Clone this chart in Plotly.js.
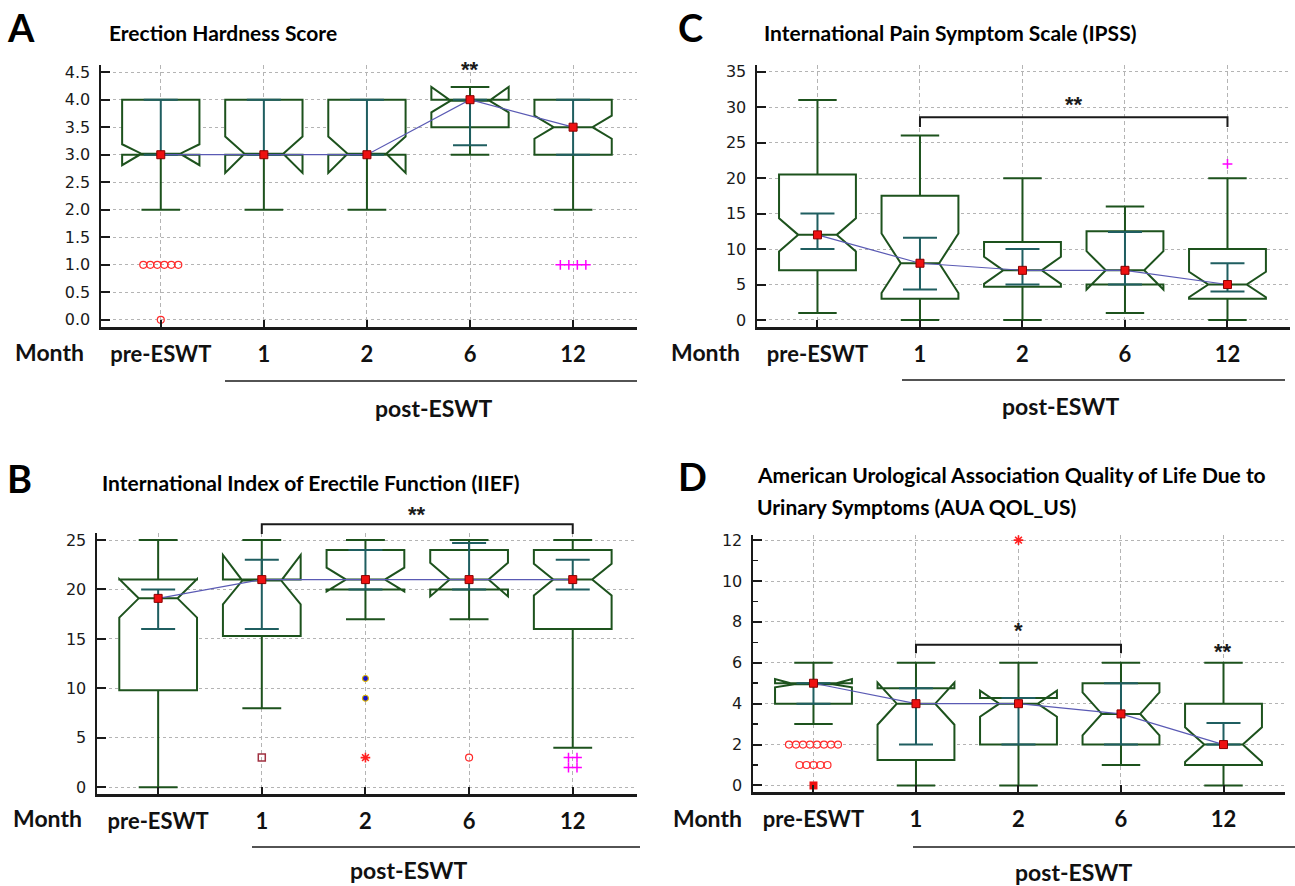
<!DOCTYPE html>
<html><head><meta charset="utf-8">
<script src="https://cdn.plot.ly/plotly-3.0.1.min.js"></script>
<style>html,body{margin:0;padding:0;background:#fff}#chart{width:1295px;height:886px}</style>
</head><body><div id="chart"></div>
<script>
const categories = ['pre-ESWT', '1', '2', '6', '12'];
const catPos = [0, 1, 2, 3, 4];

// ---- Panel A: Erection Hardness Score
const A_q1 = [3, 3, 3, 3.5, 3];
const A_median = [3, 3, 3, 4, 3.5];
const A_q3 = [4, 4, 4, 4, 4];
const A_low = [2, 2, 2, 3, 2];
const A_high = [4, 4, 4, 4, 4];
const A_notch = [0.19, 0.33, 0.33, 0.23, 0.21];
const A_ciLow = [3, 3, 3, 3.17, 3];
const A_ciHigh = [4, 4, 4, 4, 4];
const A_outCat = [0, 0, 0, 0, 0, 0, 0, 4, 4, 4, 4];
const A_outVal = [1, 1, 1, 1, 1, 1, 0, 1, 1, 1, 1];
const A_outSym = ['c', 'c', 'c', 'c', 'c', 'c', 'c', 'p', 'p', 'p', 'p'];
const A_starX = [3], A_starY = [4.55], A_starText = ['**'];
const A_bracketX = [], A_bracketY = [];

// ---- Panel C: IPSS
const C_q1 = [7, 3, 4.7, 5, 3];
const C_median = [12, 8, 7, 7, 5];
const C_q3 = [20.5, 17.5, 11, 12.5, 10];
const C_low = [1, 0, 0, 1, 0];
const C_high = [31, 26, 20, 16, 20];
const C_notch = [2.35, 4.2, 1.9, 2.7, 1.8];
const C_ciLow = [10, 4.3, 5, 5, 4];
const C_ciHigh = [15, 11.6, 10, 12.4, 8];
const C_outCat = [4];
const C_outVal = [22];
const C_outSym = ['p'];
const C_starX = [2.5], C_starY = [30.4], C_starText = ['**'];
const C_bracketX = [1, 4], C_bracketY = [28.6, 27.2];

// ---- Panel B: IIEF
const B_q1 = [9.8, 15.3, 20, 20, 16];
const B_median = [19.1, 21, 21, 21, 21];
const B_q3 = [21, 21, 24, 24, 24];
const B_low = [0, 8, 17, 17, 4];
const B_high = [25, 25, 25, 25, 25];
const B_notch = [1.95, 2.5, 1.2, 1.7, 1.6];
const B_ciLow = [16, 16, 20, 20, 20];
const B_ciHigh = [20, 23, 24, 24.7, 23];
const B_outCat = [1, 2, 2, 2, 3, 4, 4, 4, 4];
const B_outVal = [3, 11, 9, 3, 3, 3, 3, 2, 2];
const B_outSym = ['s', 'b', 'b', 'a', 'c', 'p', 'p', 'p', 'p'];
const B_starX = [2.5], B_starY = [27.6], B_starText = ['**'];
const B_bracketX = [1, 4], B_bracketY = [26.6, 25.6];

// ---- Panel D: AUA QOL_US
const D_q1 = [4, 1.25, 2, 2, 1];
const D_median = [5, 4, 4, 3.5, 2];
const D_q3 = [5, 4.75, 4.28, 5, 4];
const D_low = [3, 0, 0, 1, 0];
const D_high = [6, 6, 6, 6, 6];
const D_notch = [0.2, 1.03, 0.64, 1.05, 0.85];
const D_ciLow = [4, 2, 2, 2, 2];
const D_ciHigh = [5, 4.75, 4.28, 5, 3.05];
const D_outCat = [0, 0, 0, 0, 0, 0, 0, 0, 0, 0, 0, 0, 0, 0, 2];
const D_outVal = [2, 2, 2, 2, 2, 2, 2, 2, 1, 1, 1, 1, 1, 0, 12];
const D_outSym = ['c', 'c', 'c', 'c', 'c', 'c', 'c', 'c', 'c', 'c', 'c', 'c', 'c', 'q', 'a'];
const D_starX = [2, 4], D_starY = [7.56, 6.55], D_starText = ['*', '**'];
const D_bracketX = [1, 3], D_bracketY = [6.88, 6.47];

// ---- styling / layout
const W = 1295, H = 886;
const F_COND = 'Lato, "Liberation Sans Narrow", "DejaVu Sans Condensed", sans-serif';
const F_TICK = '"DejaVu Sans", Verdana, sans-serif';
const BOX_COLOR = '#1d521d';
const CI_COLOR = '#1f5e60';
const MED_LINE = '#5a5ab4';
const SYM = {
  c: {symbol: 'circle-open', color: '#ff2a2a', size: 7, lw: 1.2, step: 7},
  p: {symbol: 'cross-thin-open', color: '#ff00ff', size: 7, lw: 1.5, step: 8.5},
  s: {symbol: 'square-open', color: '#a03040', size: 7, lw: 1.5, step: 7},
  b: {symbol: 'circle', color: '#1515c8', size: 6, lw: 1.2, lc: '#e0b800', step: 7},
  a: {symbol: 'asterisk-open', color: '#ff2020', size: 8, lw: 1.6, step: 7},
  q: {symbol: 'square', color: '#ee1010', size: 8, lw: 0, step: 7}
};

const panels = [
  {key: 'A', xa: 'x', ya: 'y', px: [101, 637], py: [65, 327], xr: [-0.58, 4.62], yr: [-0.13, 4.63], dtick: 0.5, fmt: '.1f', minor: false,
   q1: A_q1, med: A_median, q3: A_q3, lo: A_low, hi: A_high, notch: A_notch, ciL: A_ciLow, ciH: A_ciHigh,
   oc: A_outCat, ov: A_outVal, os: A_outSym, sx: A_starX, sy: A_starY, st: A_starText, bx: A_bracketX, by: A_bracketY,
   letter: [20.5, 27], title: ['Erection Hardness Score'], titlePos: [107, 32], month: [49, 352], post: {line: [225, 637, 381], label: [433, 408]}},
  {key: 'C', xa: 'x2', ya: 'y2', px: [757, 1290], py: [65, 327], xr: [-0.59, 4.61], yr: [-0.99, 35.95], dtick: 5, fmt: '', minor: false,
   q1: C_q1, med: C_median, q3: C_q3, lo: C_low, hi: C_high, notch: C_notch, ciL: C_ciLow, ciH: C_ciHigh,
   oc: C_outCat, ov: C_outVal, os: C_outSym, sx: C_starX, sy: C_starY, st: C_starText, bx: C_bracketX, by: C_bracketY,
   letter: [690, 27], title: ['International Pain Symptom Scale (IPSS)'], titlePos: [762, 32], month: [705, 352], post: {line: [902, 1285, 380], label: [1060, 406]}},
  {key: 'B', xa: 'x3', ya: 'y3', px: [97, 637], py: [533, 794], xr: [-0.59, 4.62], yr: [-0.68, 25.71], dtick: 5, fmt: '', minor: false,
   q1: B_q1, med: B_median, q3: B_q3, lo: B_low, hi: B_high, notch: B_notch, ciL: B_ciLow, ciH: B_ciHigh,
   oc: B_outCat, ov: B_outVal, os: B_outSym, sx: B_starX, sy: B_starY, st: B_starText, bx: B_bracketX, by: B_bracketY,
   letter: [19.5, 478], title: ['International Index of Erectile Function (IIEF)'], titlePos: [100, 482], month: [47, 818], post: {line: [252, 640, 847], label: [408, 870]}},
  {key: 'D', xa: 'x4', ya: 'y4', px: [753, 1285], py: [535, 792], xr: [-0.59, 4.60], yr: [-0.32, 12.25], dtick: 2, fmt: '', minor: true,
   q1: D_q1, med: D_median, q3: D_q3, lo: D_low, hi: D_high, notch: D_notch, ciL: D_ciLow, ciH: D_ciHigh,
   oc: D_outCat, ov: D_outVal, os: D_outSym, sx: D_starX, sy: D_starY, st: D_starText, bx: D_bracketX, by: D_bracketY,
   letter: [692, 476], title: ['American Urological Association Quality of Life Due to', 'Urinary Symptoms (AUA QOL_US)'], titlePos: [755, 474], month: [707, 818], post: {line: [913, 1295, 847], label: [1073, 872]}}
];

const traces = [];
const layout = {
  width: W, height: H, autosize: false, margin: {l: 0, r: 0, t: 0, b: 0},
  paper_bgcolor: '#fff', plot_bgcolor: 'rgba(0,0,0,0)', showlegend: false, hovermode: false,
  annotations: [], shapes: []
};
const px2x = p => p / W;
const py2y = p => 1 - p / H;

panels.forEach(P => {
  const xd = [px2x(P.px[0]), px2x(P.px[1])];
  const yd = [py2y(P.py[1]), py2y(P.py[0])];
  const axX = 'xaxis' + P.xa.slice(1), axY = 'yaxis' + P.ya.slice(1);
  layout[axX] = {
    domain: xd, range: P.xr, anchor: P.ya, tickmode: 'array', tickvals: catPos, ticktext: categories,
    ticks: 'inside', ticklen: 7, tickwidth: 2, tickcolor: '#1a1a1a',
    showline: true, linewidth: 2.5, linecolor: '#1a1a1a', zeroline: false,
    showgrid: true, gridcolor: '#b4b4b4', gridwidth: 1, griddash: '4px,3px',
    tickfont: {family: F_COND, size: 22, color: '#111', weight: 'bold'}, ticklabelstandoff: 6
  };
  const yax = {
    domain: yd, range: P.yr, anchor: P.xa, tick0: 0, dtick: P.dtick,
    ticks: 'inside', ticklen: 9, tickwidth: 2, tickcolor: '#1a1a1a',
    showline: true, linewidth: 2.5, linecolor: '#1a1a1a', zeroline: false,
    showgrid: true, gridcolor: '#b4b4b4', gridwidth: 1, griddash: 'dot',
    tickfont: {family: F_TICK, size: 16, color: '#1a1a1a'}, ticklabelstandoff: 5
  };
  if (P.fmt) yax.tickformat = P.fmt;
  if (P.minor) yax.minor = {dtick: 1, tick0: 0, ticks: 'inside', ticklen: 5, tickwidth: 1.5, tickcolor: '#1a1a1a', showgrid: false};
  layout[axY] = yax;

  // notched boxes
  traces.push({
    type: 'box', xaxis: P.xa, yaxis: P.ya, x: catPos,
    q1: P.q1, median: P.med, q3: P.q3, lowerfence: P.lo, upperfence: P.hi, notchspan: P.notch,
    notched: true, notchwidth: 0.25, width: 0.75, whiskerwidth: 0.5, boxpoints: false,
    fillcolor: '#ffffff', line: {color: BOX_COLOR, width: 2}, hoverinfo: 'skip'
  });
  // inner interval bars
  traces.push({
    type: 'scatter', mode: 'markers', xaxis: P.xa, yaxis: P.ya, x: catPos, y: P.med,
    marker: {size: 1, color: 'rgba(0,0,0,0)'},
    error_y: {type: 'data', symmetric: false,
      array: P.ciH.map((v, i) => v - P.med[i]), arrayminus: P.ciL.map((v, i) => P.med[i] - v),
      width: 17, thickness: 2, color: CI_COLOR}, hoverinfo: 'skip'
  });
  // median connecting line and markers
  traces.push({
    type: 'scatter', mode: 'lines+markers', xaxis: P.xa, yaxis: P.ya, x: catPos, y: P.med,
    line: {color: MED_LINE, width: 1.2},
    marker: {symbol: 'square', size: 8, color: '#ee1111', line: {color: '#8a0000', width: 1}},
    cliponaxis: false, hoverinfo: 'skip'
  });
  // outliers, duplicates spread side by side
  const pxPerUnit = (P.px[1] - P.px[0]) / (P.xr[1] - P.xr[0]);
  const groups = {};
  P.oc.forEach((c, i) => {
    const k = c + '|' + P.ov[i] + '|' + P.os[i];
    (groups[k] = groups[k] || []).push(i);
  });
  const bySym = {};
  Object.values(groups).forEach(idx => {
    const n = idx.length;
    idx.forEach((i, k) => {
      const s = P.os[i];
      const st = SYM[s];
      (bySym[s] = bySym[s] || {x: [], y: []});
      bySym[s].x.push(P.oc[i] + (k - (n - 1) / 2) * st.step / pxPerUnit);
      bySym[s].y.push(P.ov[i]);
    });
  });
  Object.keys(bySym).forEach(s => {
    const st = SYM[s];
    traces.push({
      type: 'scatter', mode: 'markers', xaxis: P.xa, yaxis: P.ya, x: bySym[s].x, y: bySym[s].y,
      marker: {symbol: st.symbol, size: st.size, color: st.color, line: {color: st.lc || st.color, width: st.lw}},
      cliponaxis: false, hoverinfo: 'skip'
    });
  });

  // convert data -> paper for items outside the plot area
  const toPX = v => xd[0] + (v - P.xr[0]) / (P.xr[1] - P.xr[0]) * (xd[1] - xd[0]);
  const toPY = v => yd[0] + (v - P.yr[0]) / (P.yr[1] - P.yr[0]) * (yd[1] - yd[0]);
  if (P.bx.length) {
    const x0 = toPX(P.bx[0]), x1 = toPX(P.bx[1]), yTop = toPY(P.by[0]), yEnd = toPY(P.by[1]);
    layout.shapes.push({type: 'path', xref: 'paper', yref: 'paper',
      path: `M${x0},${yEnd} L${x0},${yTop} L${x1},${yTop} L${x1},${yEnd}`,
      line: {color: '#1a1a1a', width: 2}});
  }
  P.sx.forEach((x, i) => {
    layout.annotations.push({xref: 'paper', yref: 'paper', x: toPX(x), y: toPY(P.sy[i]), text: P.st[i],
      showarrow: false, xanchor: 'center', yanchor: 'middle',
      font: {family: 'Liberation Sans, Arial, sans-serif', size: 22, color: '#1a1a1a', weight: 'bold'}});
  });

  // panel letter, title, Month, post-ESWT
  layout.annotations.push({xref: 'paper', yref: 'paper', x: px2x(P.letter[0]), y: py2y(P.letter[1]), text: P.key,
    showarrow: false, xanchor: 'center', yanchor: 'middle', font: {family: F_COND, size: 38, color: '#000', weight: 'bold'}});
  P.title.forEach((t, i) => {
    layout.annotations.push({xref: 'paper', yref: 'paper', x: px2x(P.titlePos[0]), y: py2y(P.titlePos[1] + i * 32), text: t,
      showarrow: false, xanchor: 'left', yanchor: 'middle', font: {family: F_COND, size: 21, color: '#000', weight: 'bold'}});
  });
  layout.annotations.push({xref: 'paper', yref: 'paper', x: px2x(P.month[0]), y: py2y(P.month[1]), text: 'Month',
    showarrow: false, xanchor: 'center', yanchor: 'middle', font: {family: F_COND, size: 23, color: '#111', weight: 'bold'}});
  layout.shapes.push({type: 'line', xref: 'paper', yref: 'paper', x0: px2x(P.post.line[0]), x1: px2x(P.post.line[1]),
    y0: py2y(P.post.line[2]), y1: py2y(P.post.line[2]), line: {color: '#1a1a1a', width: 1.5}});
  layout.annotations.push({xref: 'paper', yref: 'paper', x: px2x(P.post.label[0]), y: py2y(P.post.label[1]), text: 'post-ESWT',
    showarrow: false, xanchor: 'center', yanchor: 'middle', font: {family: F_COND, size: 23, color: '#111', weight: 'bold'}});
});

Plotly.newPlot('chart', traces, layout, {staticPlot: true, displayModeBar: false});
</script>
</body></html>
